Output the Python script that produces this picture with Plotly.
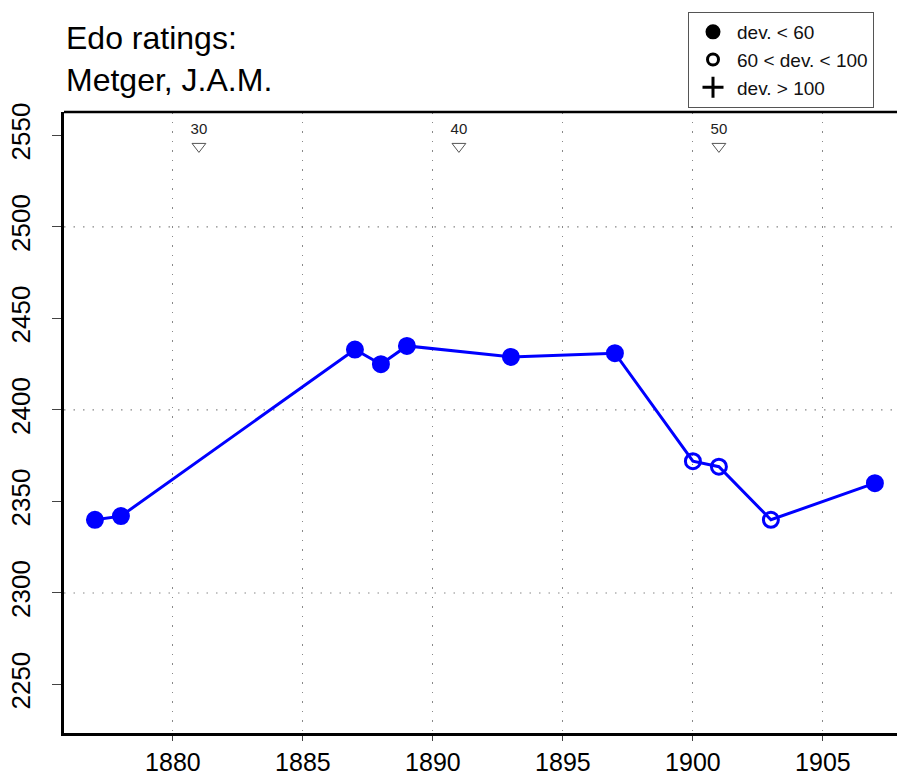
import plotly.graph_objects as go

# ---- data ----
years = [1877, 1878, 1887, 1888, 1889, 1893, 1897, 1900, 1901, 1903, 1907]
ratings = [2340, 2342, 2433, 2425, 2435, 2429, 2431, 2372, 2369, 2340, 2360]
deviation_class = ["low", "low", "low", "low", "low", "low", "low", "mid", "mid", "mid", "low"]

age_years = [1881, 1891, 1901]
age_labels = ["30", "40", "50"]
age_marker_y = 2544

x_ticks = [1880, 1885, 1890, 1895, 1900, 1905]
y_ticks = [2250, 2300, 2350, 2400, 2450, 2500, 2550]
y_grid = [2300, 2400, 2500]

legend_labels = ["dev. < 60", "60 < dev. < 100", "dev. > 100"]
legend_symbols = ["circle", "circle-open", "cross-thin-open"]

x_range = [1875.81, 1907.85]
y_range = [2223.5, 2562.8]

FONT = "Liberation Sans, Arial, sans-serif"
sym_map = {"low": "circle", "mid": "circle-open", "high": "cross-thin-open"}

W, H = 897, 776
L, T, R, B = 64, 112, 0, 43
plot_h = H - T - B
plot_w = W - L - R

fig = go.Figure()

# main rating series
fig.add_trace(go.Scatter(
    x=years, y=ratings, mode="lines+markers",
    line=dict(color="#0000ff", width=3),
    marker=dict(symbol=[sym_map[c] for c in deviation_class], size=15,
                color="#0000ff", line=dict(color="#0000ff", width=3)),
    showlegend=False, hoverinfo="x+y",
))

# age markers
fig.add_trace(go.Scatter(
    x=age_years, y=[age_marker_y] * len(age_years), mode="markers+text",
    marker=dict(symbol="triangle-down-open", size=12, color="#555555",
                line=dict(width=1, color="#555555")),
    text=age_labels, textposition="top center",
    textfont=dict(family=FONT, size=15, color="#222222"),
    showlegend=False, hoverinfo="skip",
))

# legend entries
legend_sizes = {"circle": 12, "circle-open": 11, "cross-thin-open": 15}
for lab, sym in zip(legend_labels, legend_symbols):
    fig.add_trace(go.Scatter(
        x=[None], y=[None], mode="markers", name=lab,
        marker=dict(symbol=sym, size=legend_sizes[sym],
                    color="black", line=dict(color="black", width=3)),
    ))

shapes = []
for gy in y_grid:
    shapes.append(dict(type="line", xref="x domain", yref="y", x0=0, x1=1, y0=gy, y1=gy,
                       line=dict(color="#888888", width=1.2, dash="1.5px,8px"), layer="below"))
# top frame line
shapes.append(dict(type="line", xref="x domain", yref="y domain", x0=0, x1=1, y0=1, y1=1,
                   line=dict(color="black", width=2.5), layer="above"))

fig.update_layout(
    width=W, height=H,
    margin=dict(l=L, r=R, t=T, b=B),
    paper_bgcolor="white", plot_bgcolor="white",
    font=dict(family=FONT, color="black"),
    shapes=shapes,
    annotations=[
        dict(text="Edo ratings:<br>Metger, J.A.M.", xref="paper", yref="paper",
             x=0, y=1, xanchor="left", yanchor="bottom", yshift=12, align="left",
             showarrow=False, font=dict(family=FONT, size=32, color="black")),
    ],
    legend=dict(
        x=(688 - L) / plot_w, y=1 + (112 - 12) / plot_h,
        xref="paper", yref="paper", xanchor="left", yanchor="top",
        bordercolor="#555555", borderwidth=1, bgcolor="white",
        font=dict(family=FONT, size=19, color="#111111"),
        itemwidth=38, tracegroupgap=0,
    ),
    showlegend=True,
    xaxis=dict(
        range=x_range, tickvals=x_ticks, ticktext=[str(t) for t in x_ticks],
        showgrid=True, gridcolor="#888888", gridwidth=1.2, griddash="1.5px,8px",
        zeroline=False, showline=True, linecolor="black", linewidth=2.5, mirror=False,
        ticks="outside", ticklen=5, tickcolor="#444444", tickwidth=1,
        tickfont=dict(family=FONT, size=25, color="black"), automargin=False,
    ),
    yaxis=dict(
        range=y_range, tickvals=y_ticks, ticktext=[str(t) for t in y_ticks],
        showgrid=False, zeroline=False, showline=True, linecolor="black", linewidth=2.5,
        mirror=False,
        ticks="outside", ticklen=9, tickcolor="#444444", tickwidth=1, tickangle=-90,
        ticklabelstandoff=12,
        tickfont=dict(family=FONT, size=26, color="black"), automargin=False,
    ),
)

fig.write_html("out.html", config={"displayModeBar": False},
               post_script="document.body.style.margin='0';document.body.style.overflow='hidden';")
